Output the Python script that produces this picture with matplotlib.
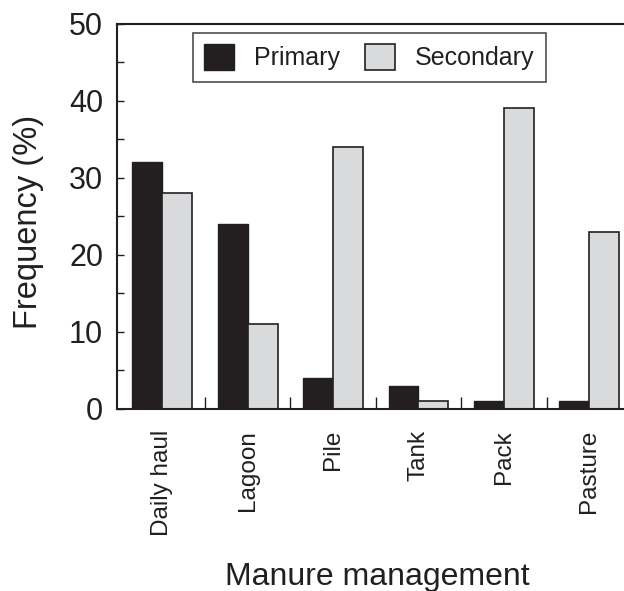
import numpy as np
import matplotlib.pyplot as plt
from matplotlib.ticker import MultipleLocator, FixedLocator

plt.rcParams['font.family'] = ['Liberation Sans', 'DejaVu Sans']

# manure management categories and frequencies (%)
categories = ['Daily haul', 'Lagoon', 'Pile', 'Tank', 'Pack', 'Pasture']
primary = [32, 24, 4, 3, 1, 1]
secondary = [28, 11, 34, 1, 39, 23]

ink = '#231f20'
grey = '#d9dadc'

fig = plt.figure(figsize=(6.24, 5.91), dpi=100)
# axes runs a little past the right edge of the figure
ax = fig.add_axes([117 / 624, 182 / 591, 515 / 624, 385.5 / 591])

x = np.arange(len(categories))
w = 0.35
ax.bar(x - w / 2, primary, w, color=ink, edgecolor=ink, linewidth=1.0, label='Primary')
ax.bar(x + w / 2, secondary, w, color=grey, edgecolor=ink, linewidth=1.2, label='Secondary')

ax.set_xlim(-0.53, 5.5)
ax.set_ylim(0, 50)

for s in ax.spines.values():
    s.set_linewidth(1.5)
    s.set_color(ink)

ax.yaxis.set_major_locator(MultipleLocator(10))
ax.yaxis.set_minor_locator(MultipleLocator(5))
ax.tick_params(axis='y', which='both', direction='in', length=5, width=1.0,
               color=ink, labelsize=22, labelcolor=ink, pad=10)

ax.set_xticks(x)
ax.set_xticklabels(categories, rotation=90, va='top')
ax.xaxis.set_minor_locator(FixedLocator(x[:-1] + 0.5))
ax.tick_params(axis='x', which='major', length=0, labelsize=17.5, labelcolor=ink, pad=15)
ax.tick_params(axis='x', which='minor', direction='in', length=9, width=1.0, color=ink)

ax.set_ylabel('Frequency (%)', fontsize=23.5, color=ink)
ax.yaxis.set_label_coords(-0.142, 0.484)
fig.text(377 / 624, 1 - 585 / 591, 'Manure management', fontsize=23, color=ink,
         ha='center', va='baseline')

leg = ax.legend(loc='upper left', bbox_to_anchor=(193 / 624, 1 - 33 / 591),
                bbox_transform=fig.transFigure, ncol=2, fontsize=18,
                frameon=True, fancybox=False, edgecolor=ink,
                handlelength=1.2, handleheight=1.2, handletextpad=0.8,
                columnspacing=1.0, borderpad=0.45, borderaxespad=0)
leg.get_frame().set_linewidth(1.2)
for t in leg.get_texts():
    t.set_color(ink)

fig.savefig('out.png', dpi=100)
